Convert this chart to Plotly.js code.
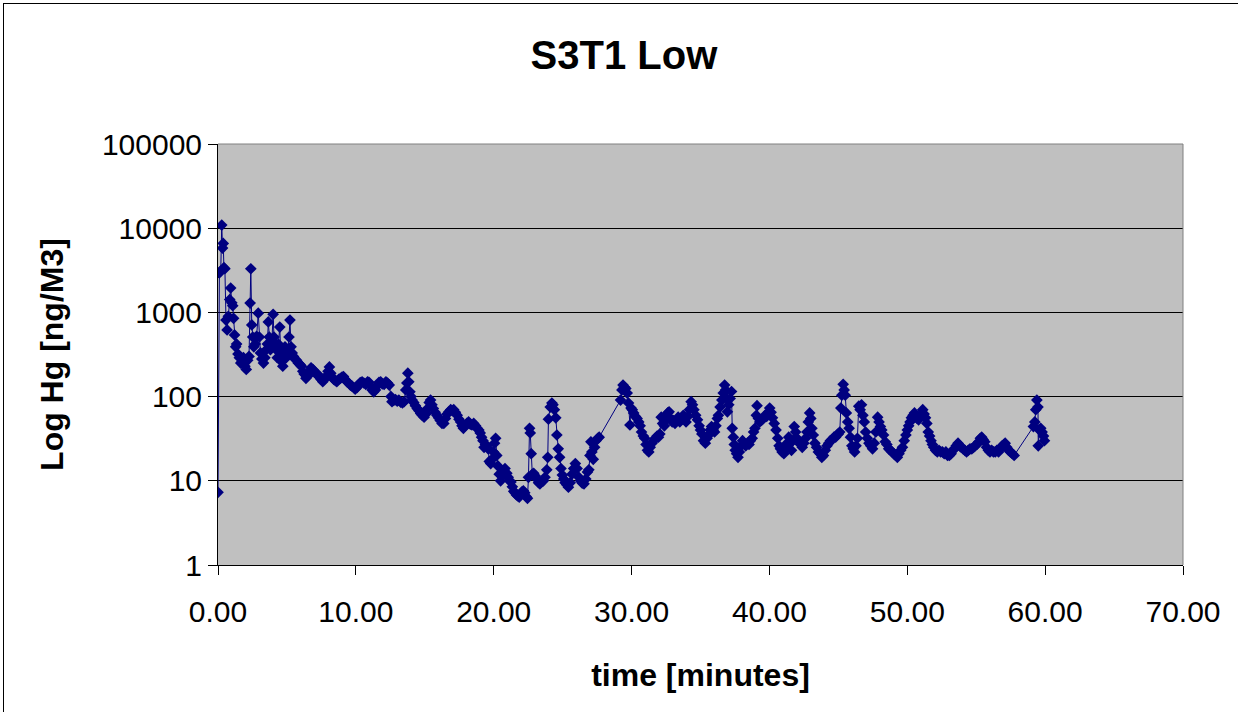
<!DOCTYPE html>
<html>
<head>
<meta charset="utf-8">
<script src="https://cdn.plot.ly/plotly-3.0.1.min.js"></script>
<style>
  html, body { margin: 0; padding: 0; background: #ffffff; }
  #wrap { position: relative; width: 1238px; height: 712px; overflow: hidden; }
  #chart { width: 1238px; height: 712px; }
  #frame { position: absolute; left: 3px; top: 3px; width: 1240px; height: 720px;
           border-left: 1px solid #000; border-top: 1px solid #000; pointer-events: none; }
</style>
</head>
<body>
<div id="wrap">
  <div id="chart"></div>
  <div id="frame"></div>
</div>
<script>
// ---- data ----
const chartTitle = "S3T1 Low";
const xTitle = "time [minutes]";
const yTitle = "Log Hg [ng/M3]";
const yTickVals = [1, 10, 100, 1000, 10000, 100000];
const yTickText = ["1", "10", "100", "1000", "10000", "100000"];
const xTickVals = [0, 10, 20, 30, 40, 50, 60, 70];

const timeMin = [
0.00,0.10,0.20,0.27,0.33,0.38,0.43,0.50,0.58,0.66,0.75,0.85,0.92,1.00,1.07,1.13,1.20,1.28,1.35,1.45,
1.55,1.65,1.75,1.85,1.95,2.05,2.15,2.25,2.33,2.38,2.45,2.52,2.60,2.70,2.80,2.92,3.00,3.08,3.18,3.30,
3.40,3.50,3.58,3.65,3.72,3.80,3.90,4.00,4.06,4.14,4.22,4.30,4.38,4.48,4.55,4.62,4.70,4.78,4.86,4.95,
5.05,5.15,5.22,5.30,5.38,5.48,5.58,5.70,5.82,5.95,6.05,6.15,6.25,6.38,6.50,6.62,6.75,6.88,7.00,7.10,
7.22,7.35,7.48,7.60,7.72,7.85,7.98,8.08,8.18,8.28,8.40,8.52,8.62,8.75,8.88,9.00,9.10,9.22,9.35,9.48,
9.60,9.72,9.85,9.95,10.08,10.20,10.32,10.45,10.58,10.72,10.85,10.95,11.05,11.18,11.30,11.42,11.55,11.68,11.80,11.92,
12.05,12.18,12.30,12.42,12.55,12.62,12.75,12.88,13.00,13.12,13.25,13.38,13.50,13.62,13.70,13.77,13.84,13.92,14.00,14.08,
14.20,14.32,14.45,14.58,14.70,14.82,14.95,15.08,15.20,15.32,15.42,15.52,15.62,15.75,15.88,16.00,16.12,16.25,16.38,16.50,
16.62,16.75,16.88,17.00,17.10,17.22,17.35,17.48,17.60,17.70,17.80,17.92,18.05,18.18,18.30,18.42,18.55,18.68,18.80,18.92,
19.02,19.12,19.22,19.30,19.40,19.50,19.60,19.68,19.78,19.88,19.98,20.06,20.14,20.22,20.30,20.40,20.50,20.60,20.72,20.82,
20.95,21.05,21.15,21.25,21.35,21.45,21.55,21.65,21.75,21.85,21.95,22.05,22.15,22.25,22.35,22.45,22.52,22.60,22.65,22.72,
22.80,22.90,23.00,23.12,23.25,23.35,23.48,23.60,23.72,23.85,23.92,23.97,24.10,24.22,24.30,24.40,24.50,24.58,24.68,24.78,
24.88,24.98,25.08,25.18,25.30,25.42,25.55,25.68,25.80,25.92,26.05,26.18,26.30,26.42,26.55,26.68,26.80,26.90,26.98,27.05,
27.12,27.22,27.32,27.42,27.55,27.65,29.20,29.30,29.38,29.48,29.58,29.68,29.78,29.88,29.96,30.05,30.15,30.28,30.40,30.52,
30.62,30.72,30.85,30.95,31.05,31.15,31.25,31.35,31.48,31.60,31.72,31.85,31.95,32.05,32.15,32.25,32.38,32.50,32.62,32.72,
32.82,32.95,33.05,33.15,33.25,33.38,33.50,33.62,33.75,33.85,33.95,34.08,34.20,34.32,34.42,34.52,34.65,34.78,34.90,35.00,
35.10,35.22,35.35,35.48,35.60,35.70,35.80,35.92,36.02,36.12,36.22,36.30,36.42,36.55,36.65,36.75,36.82,36.88,36.95,37.05,
37.15,37.25,37.30,37.38,37.45,37.52,37.62,37.72,37.82,37.95,38.05,38.15,38.28,38.40,38.52,38.62,38.75,38.85,38.95,39.05,
39.10,39.20,39.30,39.42,39.55,39.68,39.80,39.92,40.02,40.12,40.22,40.35,40.48,40.60,40.70,40.80,40.92,41.05,41.15,41.28,
41.40,41.50,41.60,41.70,41.80,41.90,42.00,42.12,42.25,42.38,42.50,42.62,42.72,42.82,42.92,43.00,43.08,43.18,43.30,43.42,
43.55,43.68,43.80,43.92,44.05,44.18,44.30,44.42,44.55,44.68,44.80,44.90,45.00,45.10,45.18,45.25,45.35,45.42,45.50,45.58,
45.68,45.78,45.88,45.98,46.08,46.18,46.28,46.38,46.48,46.58,46.68,46.78,46.88,46.98,47.10,47.22,47.35,47.48,47.60,47.72,
47.85,47.95,48.05,48.15,48.28,48.40,48.52,48.65,48.78,48.90,49.02,49.15,49.28,49.40,49.52,49.65,49.78,49.90,50.00,50.10,
50.20,50.30,50.42,50.52,50.62,50.72,50.82,50.92,51.02,51.12,51.22,51.32,51.42,51.52,51.62,51.72,51.82,51.92,52.05,52.18,
52.30,52.42,52.55,52.68,52.80,52.92,53.05,53.18,53.30,53.42,53.55,53.68,53.80,53.92,54.05,54.18,54.30,54.42,54.55,54.68,
54.80,54.92,55.05,55.18,55.30,55.40,55.50,55.62,55.75,55.88,56.00,56.12,56.25,56.38,56.50,56.62,56.75,56.88,57.00,57.10,
57.22,57.35,57.48,57.62,57.75,59.15,59.25,59.32,59.40,59.48,59.50,59.58,59.68,59.78,59.88,59.95
];

const hgValues = [
7.3,2950,3100,10900,5800,6600,3400,3300,810,620,900,1420,1950,1300,1200,850,540,390,420,320,
290,250,260,290,230,210,270,300,1290,3300,710,510,390,420,520,980,510,330,280,250,
290,360,420,770,510,360,420,950,510,430,360,290,420,670,330,260,230,290,390,290,
330,510,810,390,330,300,280,270,250,240,230,200,185,165,175,200,220,210,195,190,
185,170,160,150,160,175,200,225,190,170,160,155,150,160,165,170,173,160,150,145,
137,133,128,123,128,138,147,150,145,140,150,148,135,120,114,120,135,148,150,142,
140,150,145,137,100,87,90,92,88,91,86,84,87,120,145,190,150,114,100,91,
85,78,72,68,63,60,57,62,72,85,91,80,72,65,60,56,52,48,48,55,
62,66,70,68,70,65,60,54,50,45,42,45,48,50,47,46,48,45,42,40,
37,33,30,25,27,26,24,17,16,18,22,28,32,20,15,12,10,11.5,13,14,
12.3,11,10,9.7,8.5,7.5,7.2,6.8,6.6,6.4,7,7.4,7.6,7.2,6.5,6.2,11,42,37,21,
12,12.3,11.5,10.5,9.5,9.2,9.7,10,11,13.5,19,54,75,84,80,70,56,35,24,19,
14,11.7,10.5,9.5,9.0,8.4,9.5,12,14,16,14,11,10,9.4,9.2,10.5,12.7,13.5,20,29,
22,18,25,30,32,33,91,120,137,130,125,110,84,46,73,70,64,58,55,50,
45,38,34,32,27,23,22,25,28,30,32,34,33,36,57,48,45,55,64,66,
55,50,52,48,52,57,50,55,60,55,50,58,70,87,80,70,60,53,45,40,
36,30,28,32,35,40,44,40,38,45,55,60,75,91,110,137,120,96,66,80,
95,115,42,33,27,23,21,19,22,26,30,28,26,28,27,30,32,38,42,60,
78,55,50,52,55,60,58,65,73,65,56,48,40,32,26,24,22,21,24,28,
33,28,23,30,44,38,32,30,27,25,28,32,38,50,64,55,42,35,28,25,
22,21,19,20,23,26,28,30,31,33,33,35,36,38,73,104,140,120,104,64,
50,42,33,26,24,22,26,32,77,70,80,60,50,38,32,28,26,24,28,38,
57,50,44,40,35,29,27,24,23,22,21,20,19,21,23,25,30,35,40,45,
50,56,60,64,58,55,53,58,62,70,62,56,48,38,34,30,27,25,23,22,
23,22,22,21,22,20,20,21,23,24,26,28,26,25,24,23,22,23,24,24,
25,26,27,29,32,33,31,29,25,23,22,23,22,22,23,22,24,26,27,28,
25,23,22,21,20,44,50,70,91,75,26,40,42,38,34,30
];

const navy = "#000080";
const fontFam = "Liberation Sans, Arial, Helvetica, sans-serif";

const trace = {
  x: timeMin,
  y: hgValues,
  type: "scatter",
  mode: "lines+markers",
  line: { color: navy, width: 1 },
  marker: { symbol: "diamond", size: 9, color: navy, line: { width: 0 } },
  hoverinfo: "skip",
  showlegend: false
};

const layout = {
  width: 1238,
  height: 712,
  margin: { l: 218, r: 55, t: 144, b: 147, pad: 0 },
  paper_bgcolor: "#ffffff",
  plot_bgcolor: "#c0c0c0",
  font: { family: fontFam, color: "#000000", size: 30 },
  title: {
    text: "<b>" + chartTitle + "</b>",
    font: { family: fontFam, size: 40, color: "#000000" },
    x: 0.504, xref: "container", xanchor: "center",
    y: 1 - 55 / 712, yref: "container", yanchor: "middle"
  },
  xaxis: {
    range: [0, 70],
    tickvals: xTickVals,
    tickformat: ".2f",
    showgrid: false,
    zeroline: false,
    showline: true, linecolor: "#000000", linewidth: 1,
    ticks: "outside", ticklen: 9, tickcolor: "#000000", tickwidth: 1,
    ticklabelstandoff: 11,
    tickfont: { family: fontFam, size: 30, color: "#000000" },
    title: { text: "<b>" + xTitle + "</b>", font: { family: fontFam, size: 32, color: "#000000" }, standoff: 36 },
    automargin: false,
    fixedrange: true
  },
  yaxis: {
    type: "log",
    range: [0, 5],
    tickvals: yTickVals,
    ticktext: yTickText,
    showgrid: true, gridcolor: "#000000", gridwidth: 1,
    zeroline: false,
    showline: true, linecolor: "#000000", linewidth: 1,
    ticks: "outside", ticklen: 9, tickcolor: "#000000", tickwidth: 1,
    tickfont: { family: fontFam, size: 30, color: "#000000" },
    title: { text: "<b>" + yTitle + "</b>", font: { family: fontFam, size: 32, color: "#000000" }, standoff: 28 },
    automargin: false,
    fixedrange: true
  },
  shapes: [
    { type: "line", xref: "paper", yref: "paper", x0: 1, x1: 1, y0: 0, y1: 1,
      line: { color: "#808080", width: 1 } },
    { type: "line", xref: "paper", yref: "paper", x0: 0, x1: 1, y0: 1, y1: 1,
      line: { color: "#808080", width: 1 } }
  ],
  hovermode: false
};

Plotly.newPlot("chart", [trace], layout, { displayModeBar: false, staticPlot: true });
</script>
</body>
</html>
